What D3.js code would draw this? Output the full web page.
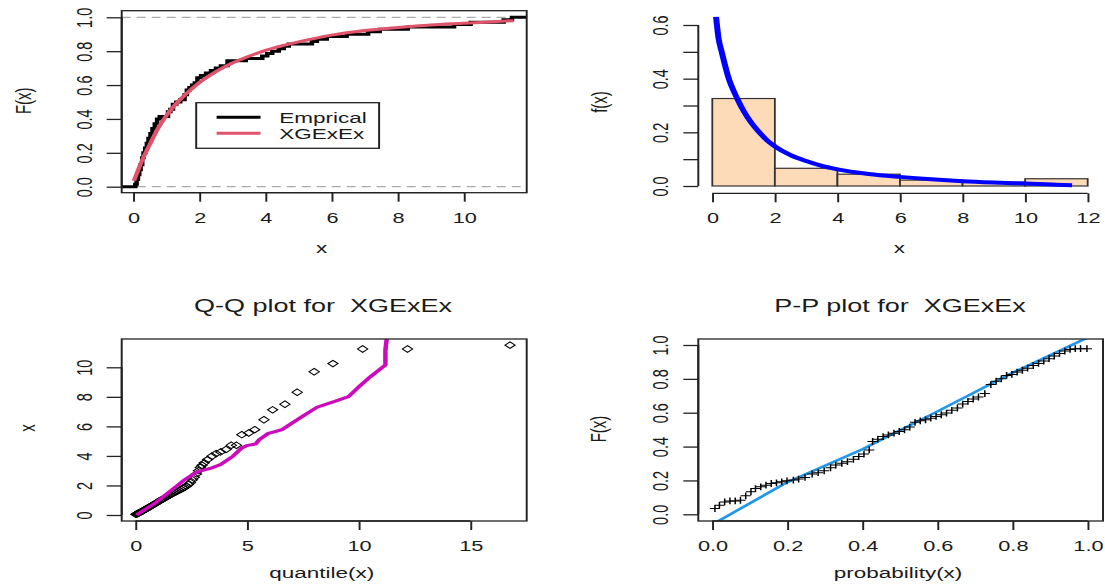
<!DOCTYPE html>
<html>
<head>
<meta charset="utf-8">
<script src="https://cdn.jsdelivr.net/npm/d3@7"></script>
<style>
body { margin: 0; background: #fff; }
text { font-family: "Liberation Sans", Arial, sans-serif; fill: #1a1a1a; }
.tick-label { font-size: 14.5px; }
.axis-label { font-size: 15px; }
.title { font-size: 18px; white-space: pre; }
.legend-text { font-size: 15px; }
</style>
</head>
<body>
<div id="chart"></div>
<script>
// --- top left: empirical vs fitted CDF
const ecdfX = [0.06,0.1,0.14,0.18,0.22,0.27,0.31,0.36,0.41,0.46,0.52,0.58,0.65,0.72,0.8,1.05,1.12,1.2,1.3,1.42,1.55,1.62,1.7,1.78,1.86,1.94,2.05,2.2,2.35,2.5,2.65,2.85,3.4,3.9,4.05,4.2,4.4,4.55,4.7,5.4,5.55,5.85,6.45,7.1,7.45,8.3,9.7,10.2,11.2,11.45];
const ecdfY = [0.014,0.043,0.071,0.1,0.129,0.171,0.2,0.229,0.257,0.286,0.314,0.343,0.371,0.4,0.414,0.443,0.457,0.486,0.5,0.514,0.543,0.571,0.586,0.6,0.614,0.643,0.657,0.671,0.686,0.7,0.714,0.743,0.757,0.771,0.786,0.8,0.814,0.829,0.843,0.857,0.871,0.886,0.9,0.914,0.929,0.943,0.957,0.971,0.986,1.0];
const cdfFitX = [0.02,0.1,0.2,0.3,0.5,0.75,1,1.25,1.5,2,2.5,3,3.5,4,5,6,7,8,9,10,11,11.5];
const cdfFitY = [0.035,0.075,0.125,0.17,0.25,0.345,0.42,0.48,0.53,0.615,0.68,0.73,0.77,0.805,0.855,0.895,0.922,0.94,0.955,0.965,0.975,0.98];
const cdfXTicks = [0, 2, 4, 6, 8, 10];
const cdfYTicks = [0, 0.2, 0.4, 0.6, 0.8, 1];
const cdfYLabels = ["0.0", "0.2", "0.4", "0.6", "0.8", "1.0"];
const legendNames = ["Emprical", "XGExEx"];

// --- top right: histogram and fitted density
const histBreaks = [0, 2, 4, 6, 8, 10, 12];
const histDensity = [0.326, 0.066, 0.044, 0.022, 0.014, 0.027];
const densX = [0.12,0.2,0.3,0.5,0.8,1,1.25,1.5,1.75,2,2.5,3,3.5,4,5,6,7,8,9,10,11,11.5];
const densY = [0.63,0.55,0.50,0.41,0.325,0.28,0.235,0.2,0.17,0.148,0.115,0.093,0.075,0.062,0.045,0.034,0.025,0.018,0.013,0.009,0.005,0.003];
const histXTicks = [0, 2, 4, 6, 8, 10, 12];
const histYTicks = [0, 0.1, 0.2, 0.3, 0.4, 0.5, 0.6];
const histYLabels = ["0.0", "", "0.2", "", "0.4", "", "0.6"];

// --- bottom left: Q-Q plot
const qqQ = [0.02,0.05,0.08,0.11,0.14,0.18,0.22,0.26,0.30,0.34,0.38,0.43,0.48,0.53,0.58,0.63,0.68,0.74,0.80,0.86,0.92,0.98,1.04,1.10,1.16,1.22,1.29,1.36,1.43,1.50,1.57,1.64,1.72,1.80,1.88,1.96,2.04,2.12,2.20,2.28,2.37,2.46,2.55,2.64,2.73,2.82,2.90,
  2.98,3.08,3.23,3.42,3.61,3.81,4.05,4.29,4.52,4.76,5.07,5.34,5.75,6.14,6.69,7.24,8.0,8.84,10.17,12.18,16.77];
const qqX = [0.04,0.06,0.09,0.11,0.13,0.16,0.19,0.23,0.26,0.30,0.33,0.38,0.42,0.46,0.50,0.54,0.59,0.65,0.70,0.75,0.80,0.86,0.92,0.98,1.02,1.07,1.13,1.19,1.26,1.32,1.38,1.44,1.50,1.56,1.62,1.68,1.74,1.81,1.88,1.96,2.06,2.20,2.38,2.56,2.78,3.00,3.22,
  3.37,3.53,3.75,3.98,4.16,4.27,4.43,4.72,4.72,5.44,5.55,5.78,6.45,7.12,7.5,8.31,9.7,10.25,11.24,11.24,11.5];
const qqLineQ = [0.05,0.9,1.85,2.17,2.72,3.42,3.81,4.36,4.76,4.99,5.38,5.54,5.93,6.56,7.35,8.13,8.92,9.54,10.02,10.49,11.19,11.19,11.27];
const qqLineX = [0,0.83,1.96,2.36,2.9,3.19,3.42,3.98,4.54,4.7,4.81,5.1,5.51,5.78,6.56,7.3,7.69,8.02,8.7,9.33,10.16,11.17,12.2];
const qqXTicks = [0, 5, 10, 15];
const qqYTicks = [0, 2, 4, 6, 8, 10];

// --- bottom right: P-P plot
const ppX = [0.007,0.019,0.033,0.047,0.061,0.075,0.089,0.103,0.115,0.129,0.143,0.157,0.171,0.185,0.199,0.216,0.230,0.247,0.266,0.282,
  0.298,0.315,0.329,0.345,0.360,0.376,0.390,0.404,0.418,0.427,0.441,0.455,0.469,0.484,0.498,0.512,0.526,0.540,0.554,0.568,
  0.582,0.596,0.610,0.624,0.638,0.653,0.667,0.681,0.695,0.709,0.726,0.742,0.756,0.770,0.784,0.798,0.812,0.826,0.840,0.855,
  0.869,0.883,0.897,0.911,0.925,0.939,0.953,0.967,0.981,0.998];
const ppY = [0.034,0.053,0.073,0.079,0.079,0.083,0.109,0.133,0.152,0.162,0.172,0.182,0.186,0.192,0.198,0.202,0.208,0.218,0.238,0.246,
  0.257,0.275,0.291,0.301,0.311,0.325,0.341,0.356,0.380,0.430,0.444,0.459,0.469,0.479,0.489,0.499,0.515,0.543,0.552,0.558,
  0.568,0.578,0.588,0.598,0.614,0.628,0.651,0.667,0.681,0.693,0.713,0.766,0.786,0.800,0.820,0.826,0.840,0.851,0.863,0.879,
  0.891,0.905,0.919,0.935,0.950,0.964,0.974,0.978,0.978,0.978];
const ppLineX = [0.0, 0.2, 0.4, 0.6, 0.8, 1.0];
const ppLineY = [-0.06, 0.19, 0.384, 0.608, 0.836, 1.044];
const ppTicks = [0, 0.2, 0.4, 0.6, 0.8, 1];
const ppLabels = ["0.0", "0.2", "0.4", "0.6", "0.8", "1.0"];

// the original R device was stretched sideways, so draw in a squeezed space and scale it back out
const SX = 1.5;
const px = v => v / SX;

const svg = d3.select("#chart").append("svg")
    .attr("width", 1105)
    .attr("height", 587);
const defs = svg.append("defs");
const root = svg.append("g").attr("transform", `scale(${SX},1)`);

const ink = "#222";

const addClip = (id, b) => {
    defs.append("clipPath").attr("id", id).append("rect")
        .attr("x", px(b.x0)).attr("y", b.y0)
        .attr("width", px(b.x1 - b.x0)).attr("height", b.y1 - b.y0);
};

const drawBox = (b) => {
    root.append("rect")
        .attr("x", px(b.x0)).attr("y", b.y0)
        .attr("width", px(b.x1 - b.x0)).attr("height", b.y1 - b.y0)
        .attr("fill", "none").attr("stroke", ink).attr("stroke-width", 1.3);
};

const bottomAxis = (x, yPos, ticks, labels) => {
    const g = root.append("g")
        .attr("transform", `translate(0,${yPos})`)
        .call(d3.axisBottom(x).tickValues(ticks).tickFormat((d, i) => labels[i]).tickSize(9).tickSizeOuter(0));
    g.attr("font-size", null).attr("font-family", null);
    g.select(".domain").remove();
    g.append("line")
        .attr("x1", x(ticks[0])).attr("x2", x(ticks[ticks.length - 1]))
        .attr("stroke", ink).attr("stroke-width", 1.3);
    g.selectAll(".tick line").attr("stroke", ink).attr("stroke-width", 1.3);
    g.selectAll(".tick text").attr("y", 30).attr("dy", null).attr("class", "tick-label");
};

const leftAxis = (y, xPos, ticks, labels) => {
    const g = root.append("g")
        .attr("transform", `translate(${px(xPos)},0)`)
        .call(d3.axisLeft(y).tickValues(ticks).tickFormat((d, i) => labels[i]).tickSize(px(15)).tickSizeOuter(0));
    g.attr("font-size", null).attr("font-family", null);
    g.select(".domain").remove();
    g.append("line")
        .attr("y1", y(ticks[0])).attr("y2", y(ticks[ticks.length - 1]))
        .attr("stroke", ink).attr("stroke-width", 1.3);
    g.selectAll(".tick line").attr("stroke", ink).attr("stroke-width", 1.3);
    g.selectAll(".tick text")
        .attr("x", null).attr("dy", null)
        .attr("text-anchor", "middle")
        .attr("class", "tick-label")
        .attr("transform", `translate(${px(-30)},0) rotate(-90)`);
};

const xLabel = (txt, cx, baseline) => {
    root.append("text").attr("class", "axis-label")
        .attr("x", px(cx)).attr("y", baseline)
        .attr("text-anchor", "middle").text(txt);
};

const yLabel = (txt, baseX, cy) => {
    root.append("text").attr("class", "axis-label")
        .attr("text-anchor", "middle")
        .attr("transform", `translate(${px(baseX)},${cy}) rotate(-90)`)
        .text(txt);
};

const title = (txt, cx, baseline) => {
    root.append("text").attr("class", "title")
        .attr("x", px(cx)).attr("y", baseline)
        .attr("text-anchor", "middle").text(txt);
};

// ---------- top left ----------
{
    const box = { x0: 121.7, x1: 526.7, y0: 10.7, y1: 192.7 };
    addClip("clip-tl", box);
    const x = d3.scaleLinear().domain([0, 10]).range([px(133.3), px(464)]);
    const y = d3.scaleLinear().domain([0, 1]).range([186.7, 17.3]);
    const xmin = x.invert(px(box.x0)), xmax = x.invert(px(box.x1));
    const plot = root.append("g").attr("clip-path", "url(#clip-tl)");

    plot.selectAll("line.ref").data([0, 1]).join("line")
        .attr("class", "ref")
        .attr("x1", px(box.x0)).attr("x2", px(box.x1))
        .attr("y1", d => y(d)).attr("y2", d => y(d))
        .attr("stroke", "#aaa").attr("stroke-width", 1.2)
        .attr("stroke-dasharray", "6,4");

    const steps = [{ x: xmin, y: 0 }].concat(ecdfX.map((v, i) => ({ x: v, y: ecdfY[i] })), [{ x: xmax, y: 1 }]);
    plot.append("path").datum(steps)
        .attr("fill", "none").attr("stroke", "#000").attr("stroke-width", 3)
        .attr("d", d3.line().x(d => x(d.x)).y(d => y(d.y)).curve(d3.curveStepAfter));

    const fit = cdfFitX.map((v, i) => ({ x: v, y: cdfFitY[i] }));
    plot.append("path").datum(fit)
        .attr("fill", "none").attr("stroke", "#DF536B").attr("stroke-width", 3)
        .attr("d", d3.line().x(d => x(d.x)).y(d => y(d.y)).curve(d3.curveMonotoneX));

    // legend
    const lg = root.append("g");
    lg.append("rect")
        .attr("x", px(196.2)).attr("y", 102.7)
        .attr("width", px(379.1 - 196.2)).attr("height", 148.3 - 102.7)
        .attr("fill", "#fff").attr("stroke", ink).attr("stroke-width", 1.3);
    const legendColours = ["#000", "#DF536B"];
    legendNames.forEach((name, i) => {
        const cy = 117.3 + i * 16;
        lg.append("line")
            .attr("x1", px(216.6)).attr("x2", px(260.5))
            .attr("y1", cy).attr("y2", cy)
            .attr("stroke", legendColours[i]).attr("stroke-width", 3);
        lg.append("text").attr("class", "legend-text")
            .attr("x", px(279.2)).attr("y", cy + 5.3)
            .text(name);
    });

    drawBox(box);
    bottomAxis(x, box.y1, cdfXTicks, cdfXTicks.map(String));
    leftAxis(y, box.x0, cdfYTicks, cdfYLabels);
    xLabel("x", 321.7, 253);
    yLabel("F(x)", 31, 100.8);
}

// ---------- top right ----------
{
    const x = d3.scaleLinear().domain([0, 12]).range([px(712.3), px(1087.7)]);
    const y = d3.scaleLinear().domain([0, 0.6]).range([186, 25]);

    root.append("g").selectAll("rect")
        .data(histDensity)
        .join("rect")
        .attr("x", (d, i) => x(histBreaks[i]))
        .attr("width", (d, i) => x(histBreaks[i + 1]) - x(histBreaks[i]))
        .attr("y", d => y(d))
        .attr("height", d => y(0) - y(d))
        .attr("fill", "#FDDAB8").attr("stroke", "#333").attr("stroke-width", 1.2);

    const dens = densX.map((v, i) => ({ x: v, y: densY[i] }));
    root.append("path").datum(dens)
        .attr("fill", "none").attr("stroke", "#0000FF").attr("stroke-width", 4)
        .attr("stroke-linejoin", "round")
        .attr("d", d3.line().x(d => x(d.x)).y(d => y(d.y)).curve(d3.curveMonotoneX));

    bottomAxis(x, 193.3, histXTicks, histXTicks.map(String));
    leftAxis(y, 698.3, histYTicks, histYLabels);
    xLabel("x", 899.4, 253);
    yLabel("f(x)", 607, 102);
}

// ---------- bottom left ----------
{
    const box = { x0: 121.7, x1: 526.7, y0: 339, y1: 521 };
    addClip("clip-bl", box);
    const x = d3.scaleLinear().domain([0, 15]).range([px(135.5), px(470.5)]);
    const y = d3.scaleLinear().domain([0, 10]).range([515, 367.3]);
    const plot = root.append("g").attr("clip-path", "url(#clip-bl)");

    const dw = 3.4, dh = 3.3;
    plot.selectAll("path.pt")
        .data(qqQ.map((q, i) => ({ q, v: qqX[i] })))
        .join("path")
        .attr("class", "pt")
        .attr("transform", d => `translate(${x(d.q)},${y(d.v)})`)
        .attr("d", `M0,${-dh}L${dw},0L0,${dh}L${-dw},0Z`)
        .attr("fill", "none").attr("stroke", "#000").attr("stroke-width", 0.9);

    const ln = qqLineQ.map((q, i) => ({ q, v: qqLineX[i] }));
    plot.append("path").datum(ln)
        .attr("fill", "none").attr("stroke", "#CD0BBC").attr("stroke-width", 3)
        .attr("d", d3.line().x(d => x(d.q)).y(d => y(d.v)));

    drawBox(box);
    bottomAxis(x, box.y1, qqXTicks, qqXTicks.map(String));
    leftAxis(y, box.x0, qqYTicks, qqYTicks.map(String));
    xLabel("quantile(x)", 321.7, 578);
    yLabel("x", 35, 428);
    title("Q-Q plot for  XGExEx", 323, 311.7);
}

// ---------- bottom right ----------
{
    const box = { x0: 698.3, x1: 1103, y0: 339, y1: 521 };
    addClip("clip-br", box);
    const x = d3.scaleLinear().domain([0, 1]).range([px(712.3), px(1087.7)]);
    const y = d3.scaleLinear().domain([0, 1]).range([514.3, 345]);
    const plot = root.append("g").attr("clip-path", "url(#clip-br)");

    const ln = ppLineX.map((v, i) => ({ x: v, y: ppLineY[i] }));
    plot.append("path").datum(ln)
        .attr("fill", "none").attr("stroke", "#2297E6").attr("stroke-width", 2.4)
        .attr("d", d3.line().x(d => x(d.x)).y(d => y(d.y)));

    const s = 3.4;
    plot.selectAll("path.pt")
        .data(ppX.map((v, i) => ({ x: v, y: ppY[i] })))
        .join("path")
        .attr("class", "pt")
        .attr("transform", d => `translate(${x(d.x)},${y(d.y)})`)
        .attr("d", `M${-s},0H${s}M0,${-s}V${s}`)
        .attr("fill", "none").attr("stroke", "#000").attr("stroke-width", 1);

    drawBox(box);
    bottomAxis(x, box.y1, ppTicks, ppLabels);
    leftAxis(y, box.x0, ppTicks, ppLabels);
    xLabel("probability(x)", 898, 578);
    yLabel("F(x)", 606, 429);
    title("P-P plot for  XGExEx", 900, 311.7);
}
</script>
</body>
</html>
